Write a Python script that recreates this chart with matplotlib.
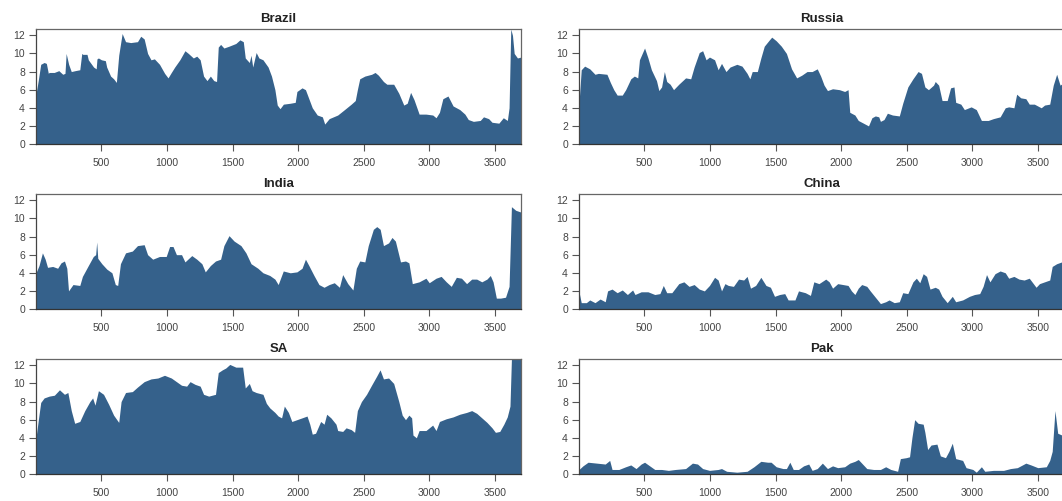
import numpy as np
import matplotlib
matplotlib.use("Agg")
import matplotlib.pyplot as plt

# breakpoints (day index, value) for each country series
brazil_x = [1, 18, 37, 63, 80, 95, 101, 140, 175, 205, 222, 231, 250, 270, 300, 335, 350, 358, 390, 400,
            440, 460, 466, 477, 500, 530, 540, 570, 593, 614, 632, 658, 684, 723, 775, 800, 826, 852, 878,
            904, 943, 982, 1008, 1033, 1059, 1098, 1137, 1163, 1201, 1227, 1253, 1279, 1305, 1331, 1357,
            1378, 1391, 1409, 1434, 1473, 1525, 1556, 1582, 1597, 1628, 1641, 1654, 1680, 1701, 1732, 1771,
            1797, 1823, 1841, 1862, 1888, 1940, 1978, 1991, 2030, 2056, 2082, 2108, 2146, 2185, 2203, 2237,
            2302, 2354, 2405, 2436, 2452, 2470, 2509, 2561, 2587, 2612, 2651, 2677, 2729, 2768, 2806, 2832,
            2858, 2884, 2923, 2975, 3027, 3052, 3078, 3104, 3143, 3182, 3233, 3272, 3298, 3337, 3389, 3414,
            3453, 3479, 3531, 3565, 3596, 3609, 3622, 3635, 3648, 3673, 3700]
brazil_y = [5.5, 7.0, 8.8, 9.0, 8.9, 7.8, 7.9, 7.9, 8.1, 7.7, 7.8, 10.0, 8.8, 8.0, 8.1, 8.2, 10.0, 9.9, 9.9, 9.3,
            8.5, 8.3, 9.4, 9.5, 9.3, 9.2, 8.5, 7.5, 7.2, 6.8, 9.8, 12.2, 11.3, 11.2, 11.3, 11.9, 11.6, 10.0, 9.3,
            9.4, 8.8, 7.8, 7.3, 7.9, 8.5, 9.3, 10.3, 10.0, 9.5, 9.7, 9.3, 7.5, 7.0, 7.5, 7.0,
            6.9, 10.7, 11.0, 10.6, 10.8, 11.1, 11.5, 11.3, 9.5, 9.0, 9.8, 8.5, 10.1, 9.5, 9.3, 8.5,
            7.5, 6.0, 4.3, 3.9, 4.4, 4.5, 4.6, 5.8, 6.2, 6.0, 5.0, 4.0, 3.2, 3.0, 2.2, 2.8,
            3.2, 3.8, 4.4, 4.8, 6.0, 7.2, 7.5, 7.7, 7.9, 7.6, 6.9, 6.6, 6.6, 5.6, 4.3, 4.5,
            5.7, 4.9, 3.3, 3.3, 3.2, 2.9, 3.5, 5.0, 5.3, 4.2, 3.8, 3.3, 2.7, 2.5, 2.6, 3.0,
            2.8, 2.4, 2.3, 2.9, 2.6, 4.0, 12.7, 12.0, 10.0, 9.5, 9.6]

russia_x = [1, 18, 44, 83, 123, 149, 214, 240, 266, 292, 331, 357, 396, 423, 449, 462, 501, 527, 553, 592,
            610, 631, 652, 670, 696, 722, 762, 814, 853, 879, 918, 944, 970, 996, 1035, 1062, 1088, 1122,
            1153, 1205, 1244, 1283, 1304, 1322, 1361, 1388, 1414, 1453, 1471, 1505, 1544, 1583, 1622, 1661,
            1700, 1740, 1779, 1818, 1844, 1870, 1896, 1935, 1987, 2027, 2053, 2066, 2105, 2131, 2183, 2209,
            2235, 2261, 2287, 2300, 2327, 2353, 2392, 2444, 2470, 2509, 2548, 2587, 2613, 2639, 2666, 2705,
            2718, 2744, 2770, 2809, 2835, 2861, 2874, 2913, 2940, 2992, 3031, 3070, 3122, 3161, 3213, 3252,
            3278, 3318, 3339, 3370, 3409, 3435, 3474, 3526, 3552, 3591, 3618, 3644, 3670, 3700]
russia_y = [4.5, 8.2, 8.6, 8.3, 7.7, 7.8, 7.7, 6.8, 6.0, 5.4, 5.4, 6.0, 7.2, 7.5, 7.3, 9.3, 10.6, 9.5, 8.2, 7.0,
            5.9, 6.3, 8.0, 6.9, 6.6, 6.0, 6.6, 7.3, 7.2, 8.5, 10.1, 10.3, 9.3, 9.6, 9.3, 8.2, 8.9, 8.0,
            8.5, 8.8, 8.6, 7.8, 7.2, 8.0, 8.0, 9.5, 10.8, 11.5, 11.8, 11.4, 10.8, 10.0, 8.3, 7.3,
            7.6, 8.0, 8.0, 8.3, 7.5, 6.5, 5.9, 6.1, 6.0, 5.8, 6.0, 3.5, 3.2, 2.6, 2.2, 2.0,
            2.9, 3.1, 3.0, 2.5, 2.7, 3.4, 3.2, 3.1, 4.5, 6.3, 7.2, 8.0, 7.8, 6.3, 6.0, 6.5,
            6.9, 6.5, 4.8, 4.8, 6.2, 6.3, 4.6, 4.4, 3.8, 4.1, 3.8, 2.6, 2.6, 2.8, 3.0, 4.0,
            4.1, 4.0, 5.5, 5.1, 5.0, 4.4, 4.4, 4.0, 4.3, 4.4, 6.5, 7.7, 6.5, 6.8]

india_x = [1, 24, 50, 71, 89, 128, 166, 192, 218, 236, 249, 283, 335, 355, 400, 438, 456, 464, 472, 503,
           541, 580, 606, 624, 645, 684, 736, 775, 826, 852, 891, 943, 994, 1020, 1046, 1072, 1111, 1137,
           1189, 1227, 1266, 1292, 1331, 1370, 1409, 1434, 1473, 1512, 1564, 1602, 1641, 1693, 1732, 1784,
           1823, 1848, 1887, 1940, 1991, 2030, 2056, 2082, 2121, 2159, 2198, 2237, 2276, 2315, 2340, 2379,
           2418, 2444, 2470, 2509, 2535, 2574, 2600, 2626, 2651, 2690, 2716, 2742, 2781, 2819, 2845, 2871,
           2923, 2975, 3000, 3052, 3091, 3130, 3168, 3207, 3246, 3285, 3324, 3362, 3401, 3440, 3466, 3487,
           3512, 3544, 3582, 3609, 3627, 3660, 3700]
india_y = [4.0, 4.8, 6.2, 5.5, 4.6, 4.7, 4.5, 5.1, 5.3, 4.5, 2.0, 2.7, 2.6, 3.6, 4.8, 5.8, 6.0, 7.4, 5.6, 5.0,
           4.4, 4.0, 2.7, 2.6, 5.0, 6.2, 6.4, 7.0, 7.1, 6.0, 5.5, 5.8, 5.8, 6.9, 6.9, 6.0, 6.0, 5.2,
           5.9, 5.5, 5.0, 4.1, 4.8, 5.3, 5.5, 7.0, 8.1, 7.5, 7.0, 6.2, 5.0, 4.5, 4.0, 3.7,
           3.3, 2.7, 4.2, 4.0, 4.1, 4.5, 5.5, 4.8, 3.7, 2.7, 2.4, 2.7, 2.9, 2.4, 3.8, 2.8,
           2.1, 4.5, 5.3, 5.2, 7.0, 8.8, 9.1, 8.8, 7.0, 7.3, 7.9, 7.5, 5.2, 5.3, 5.1, 2.8,
           3.0, 3.4, 2.9, 3.4, 3.6, 3.0, 2.5, 3.5, 3.4, 2.8, 3.3, 3.3, 3.0, 3.3, 3.7, 3.0,
           1.2, 1.2, 1.3, 2.5, 11.3, 10.9, 10.7]

china_x = [1, 18, 57, 83, 123, 162, 201, 219, 253, 292, 331, 370, 410, 428, 475, 527, 579, 618, 644, 670,
           709, 762, 801, 840, 879, 918, 957, 996, 1035, 1062, 1088, 1114, 1140, 1179, 1218, 1257, 1283,
           1309, 1348, 1388, 1427, 1461, 1492, 1531, 1570, 1596, 1648, 1675, 1727, 1766, 1792, 1831, 1883,
           1909, 1935, 1974, 2014, 2053, 2079, 2105, 2131, 2157, 2196, 2222, 2261, 2300, 2340, 2366, 2405,
           2444, 2470, 2509, 2548, 2574, 2600, 2626, 2652, 2678, 2718, 2744, 2770, 2809, 2848, 2874, 2927,
           2979, 3018, 3057, 3083, 3109, 3135, 3174, 3213, 3252, 3278, 3318, 3357, 3396, 3435, 3461, 3487,
           3513, 3552, 3591, 3610, 3644, 3683, 3700]
china_y = [1.9, 0.7, 0.7, 1.0, 0.7, 1.1, 0.8, 2.0, 2.2, 1.8, 2.1, 1.6, 2.1, 1.6, 1.9, 1.9, 1.6, 1.7, 2.6, 1.8,
           1.8, 2.8, 3.0, 2.5, 2.7, 2.2, 2.0, 2.6, 3.5, 3.2, 2.0, 2.8, 2.6, 2.5, 3.3, 3.2, 3.6,
           2.3, 2.6, 3.5, 2.6, 2.4, 1.4, 1.6, 1.7, 1.0, 1.0, 2.0, 1.8, 1.5, 3.0, 2.8, 3.3,
           3.0, 2.3, 2.8, 2.7, 2.6, 2.0, 1.6, 2.3, 2.7, 2.5, 2.0, 1.3, 0.6, 0.8, 1.0, 0.7,
           0.8, 1.8, 1.7, 3.0, 3.4, 2.9, 3.9, 3.6, 2.2, 2.4, 2.2, 1.4, 0.7, 1.4, 0.8, 1.0,
           1.4, 1.6, 1.7, 2.5, 3.8, 3.0, 3.9, 4.2, 4.0, 3.4, 3.6, 3.3, 3.2, 3.4, 2.9, 2.4,
           2.8, 3.0, 3.2, 4.7, 5.0, 5.2, 5.2]

sa_x = [1, 19, 37, 63, 102, 141, 180, 218, 244, 270, 296, 335, 373, 412, 433, 451, 477, 516, 555, 593,
        632, 650, 684, 736, 775, 826, 878, 930, 981, 1033, 1072, 1111, 1150, 1176, 1214, 1253, 1279, 1318,
        1370, 1391, 1422, 1448, 1479, 1525, 1577, 1597, 1628, 1649, 1680, 1732, 1758, 1784, 1823, 1848,
        1874, 1895, 1926, 1952, 1991, 2030, 2068, 2089, 2108, 2133, 2172, 2198, 2218, 2250, 2289, 2302,
        2340, 2366, 2405, 2431, 2452, 2483, 2522, 2560, 2599, 2625, 2651, 2690, 2729, 2768, 2794, 2819,
        2845, 2866, 2876, 2902, 2923, 2975, 3026, 3052, 3078, 3130, 3181, 3233, 3285, 3324, 3362, 3401,
        3440, 3479, 3505, 3538, 3569, 3595, 3616, 3627, 3700]
sa_y = [4.0, 6.0, 7.9, 8.4, 8.6, 8.7, 9.3, 8.8, 9.0, 7.0, 5.6, 5.8, 7.0, 8.0, 8.4, 7.6, 9.2, 8.8, 7.7, 6.5,
        5.7, 8.0, 9.0, 9.1, 9.6, 10.2, 10.5, 10.6, 10.9, 10.6, 10.2, 9.8, 9.7, 10.2, 9.9, 9.7, 8.8, 8.6,
        8.8, 11.2, 11.5, 11.7, 12.1, 11.8, 11.8, 9.5, 10.0, 9.2, 9.0, 8.8, 7.8, 7.3, 6.8, 6.4,
        6.2, 7.5, 6.8, 5.8, 6.0, 6.2, 6.4, 5.5, 4.4, 4.5, 5.8, 5.5, 6.6, 6.2, 5.5, 4.8,
        4.7, 5.1, 4.9, 4.6, 7.0, 8.0, 8.8, 9.8, 10.8, 11.5, 10.5, 10.6, 10.0, 8.0, 6.5, 6.0,
        6.5, 6.2, 4.3, 4.0, 4.8, 4.8, 5.4, 4.8, 5.8, 6.1, 6.3, 6.6, 6.8, 7.0, 6.7, 6.2,
        5.7, 5.1, 4.6, 4.7, 5.5, 6.3, 7.5, 12.7, 12.7]

pak_x = [1, 31, 70, 136, 201, 235, 253, 305, 357, 396, 436, 475, 501, 540, 579, 631, 683, 736, 814, 866,
         905, 944, 996, 1062, 1088, 1127, 1205, 1283, 1335, 1388, 1440, 1466, 1505, 1557, 1583, 1609, 1635,
         1675, 1714, 1753, 1779, 1818, 1857, 1896, 1935, 1974, 2027, 2066, 2105, 2131, 2157, 2196, 2248,
         2300, 2340, 2379, 2431, 2452, 2496, 2522, 2540, 2561, 2587, 2626, 2639, 2660, 2686, 2731, 2757,
         2796, 2822, 2848, 2874, 2927, 2953, 3005, 3031, 3070, 3096, 3161, 3239, 3292, 3344, 3383, 3409,
         3448, 3500, 3565, 3591, 3610, 3631, 3652, 3700]
pak_y = [0.5, 0.9, 1.3, 1.2, 1.1, 1.5, 0.5, 0.5, 0.8, 1.0, 0.6, 1.1, 1.3, 0.9, 0.5, 0.5, 0.4, 0.5, 0.6, 1.2,
         1.1, 0.6, 0.4, 0.5, 0.6, 0.3, 0.2, 0.3, 0.8, 1.4, 1.3, 1.3, 0.8, 0.6, 0.6, 1.3, 0.5,
         0.5, 0.9, 1.1, 0.4, 0.6, 1.2, 0.6, 0.9, 0.7, 0.8, 1.2, 1.4, 1.6, 1.2, 0.6, 0.5,
         0.5, 0.8, 0.5, 0.3, 1.7, 1.8, 1.9, 4.0, 6.0, 5.6, 5.5, 4.6, 2.7, 3.2, 3.3, 2.0,
         1.8, 2.5, 3.4, 1.7, 1.5, 0.7, 0.5, 0.2, 0.8, 0.3, 0.4, 0.4, 0.6, 0.7, 1.0, 1.2,
         1.0, 0.7, 0.8, 1.5, 2.5, 7.0, 4.5, 4.2]

titles = ["Brazil", "Russia", "India", "China", "SA", "Pak"]
series = [(brazil_x, brazil_y), (russia_x, russia_y), (india_x, india_y),
          (china_x, china_y), (sa_x, sa_y), (pak_x, pak_y)]
xticks = [500, 1000, 1500, 2000, 2500, 3000, 3500]
yticks = [0, 2, 4, 6, 8, 10, 12]

fill_col = "#35618b"
W, H = 1062, 501

plt.rcParams["font.family"] = ["Liberation Sans", "DejaVu Sans"]
fig = plt.figure(figsize=(W / 100, H / 100), dpi=100)

# panel boxes in pixels: left edge, bottom edge (from top), width, height
lefts = [36, 579]
bottoms = [144, 309, 474]
pw, ph = 485, 115

for i, (title, (xs, ys)) in enumerate(zip(titles, series)):
    r, c = divmod(i, 2)
    ax = fig.add_axes([lefts[c] / W, (H - bottoms[r]) / H, pw / W, ph / H])
    xs = np.asarray(xs, dtype=float)
    ys = np.asarray(ys, dtype=float)
    ax.fill_between(xs, 0, ys, color=fill_col, linewidth=0)
    ax.set_xlim(1, 3700)
    ax.set_ylim(0, 12.7)
    ax.set_xticks(xticks)
    ax.set_yticks(yticks)
    ax.tick_params(axis="both", direction="out", length=5, width=0.8,
                   color="#555555", labelcolor="#444444", labelsize=7.5)
    ax.tick_params(axis="x", pad=5)
    ax.tick_params(axis="y", pad=3)
    for sp in ax.spines.values():
        sp.set_color("#666666")
        sp.set_linewidth(0.9)
    ax.spines["bottom"].set_color("#333333")
    ax.spines["left"].set_color("#444444")
    ax.set_title(title, fontsize=9.5, fontweight="bold", pad=5, color="#222222")

fig.savefig("out.png", dpi=100)
